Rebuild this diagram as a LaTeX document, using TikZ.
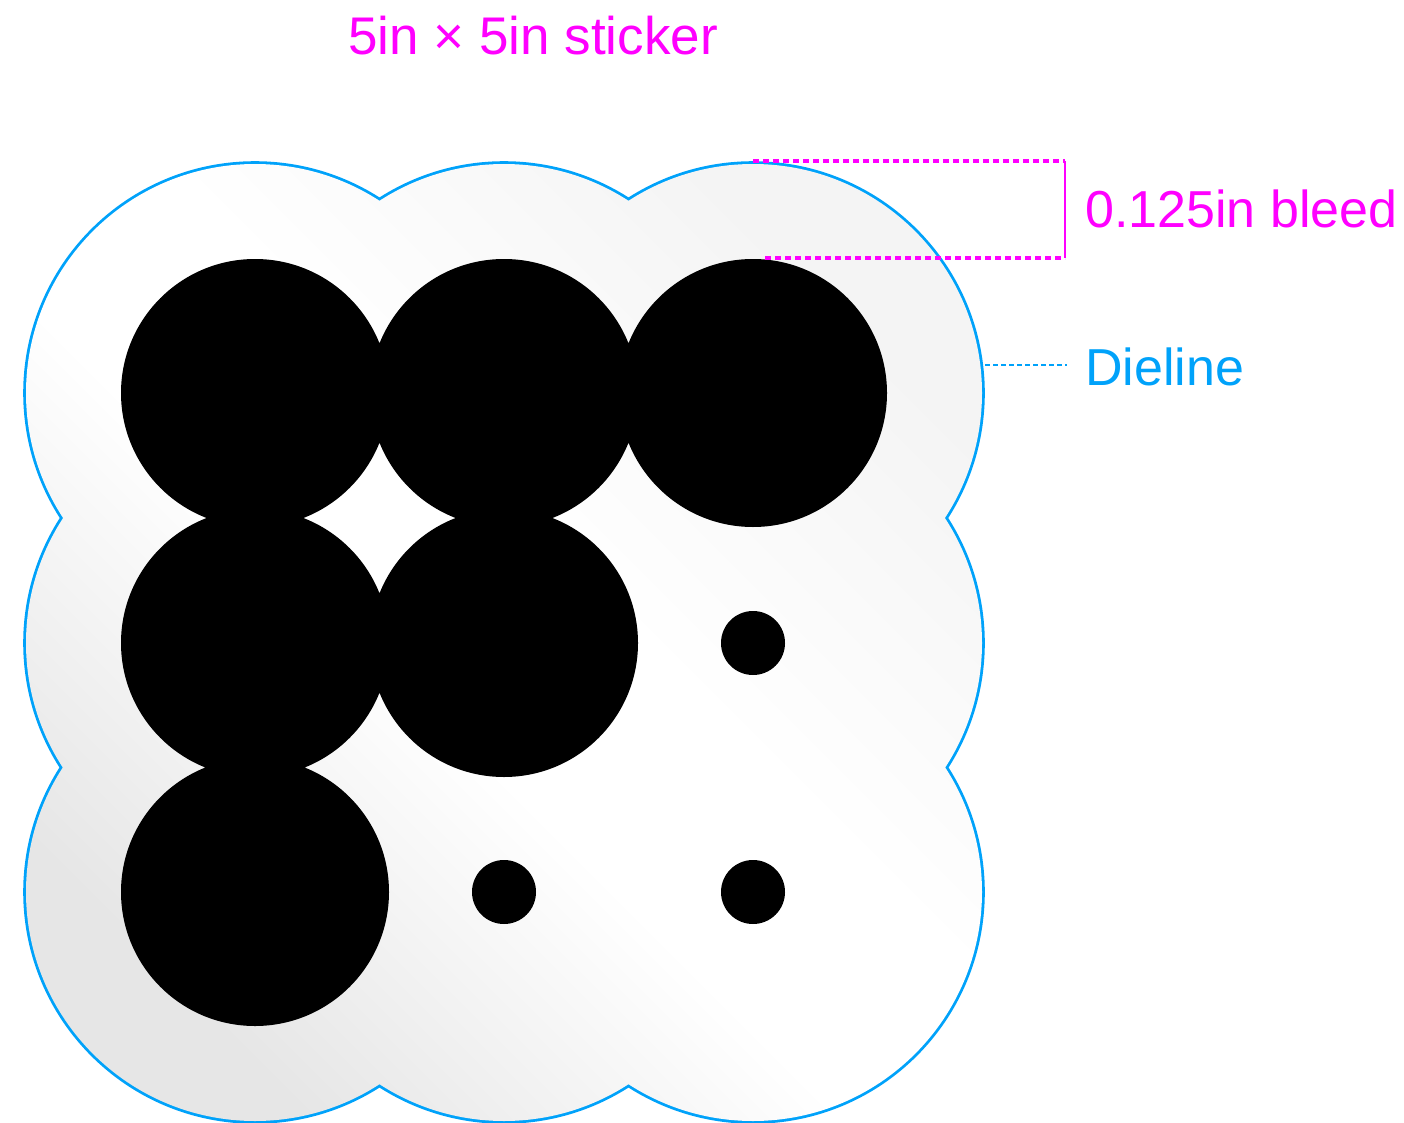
\documentclass[tikz,border=0pt]{standalone}
\usepackage{fontspec}
\setmainfont{Liberation Sans}
\definecolor{mag}{RGB}{255,0,255}
\definecolor{die}{RGB}{0,162,250}
\definecolor{gLo}{RGB}{230,230,230}
\definecolor{gHi}{RGB}{244,244,244}
\pgfdeclareverticalshading{stickershade}{100bp}{color(0bp)=(gLo); color(25bp)=(gLo); color(45bp)=(white); color(55bp)=(white); color(75bp)=(gHi); color(100bp)=(gHi)}
\begin{document}
\begin{tikzpicture}[x=1pt,y=-1pt,
  lbl/.style={font=\fontsize{52}{60}\selectfont, inner sep=0pt, anchor=base west},
  dieline/.style={die, line width=5.6pt},
  bleedline/.style={mag, line width=3.2pt, dash pattern=on 6pt off 4pt},
  dieleader/.style={die, line width=2.2pt, dash pattern=on 5pt off 3pt}]
\useasboundingbox (0,0) rectangle (1404,1123);
% dieline outline (outer half of a thick stroke stays visible)
\foreach \x in {255,504,753}{\foreach \y in {393,643,892}{
  \draw[dieline] (\x,\y) circle[radius=229pt];}}
% shaded sticker body
\shade[shading=stickershade, shading angle=-45]
  \foreach \x in {255,504,753}{\foreach \y in {393,643,892}{ (\x,\y) circle[radius=229pt] }};
% black circles
\fill[black] (255,393) circle[radius=134pt] (504,393) circle[radius=134pt]
  (753,393) circle[radius=134pt] (255,643) circle[radius=134pt]
  (504,643) circle[radius=134pt] (255,892) circle[radius=134pt];
\fill[black] (753,643) circle[radius=32pt] (504,892) circle[radius=32pt]
  (753,892) circle[radius=32pt];
% title
\node[font=\fontsize{53}{60}\selectfont, inner sep=0pt, anchor=base, text=mag] (title) at (533,55) {5in × 5in sticker};
% bleed
\coordinate (bt1) at (753,161);
\coordinate (bt2) at (1065,161);
\coordinate (bb1) at (765,258);
\coordinate (bb2) at (1065,258);
\draw[bleedline] (bt1) -- (bt2);
\draw[bleedline] (bb1) -- (bb2);
\draw[mag, line width=2.5pt] (bt2) -- (bb2);
\node[lbl, text=mag] (bleed) at (1085,228) {0.125in bleed};
% dieline label
\coordinate (d1) at (985,365);
\coordinate (d2) at (1067,365);
\draw[dieleader] (d1) -- (d2);
\node[lbl, text=die] (dlabel) at (1085,385) {Dieline};
\end{tikzpicture}
\end{document}
